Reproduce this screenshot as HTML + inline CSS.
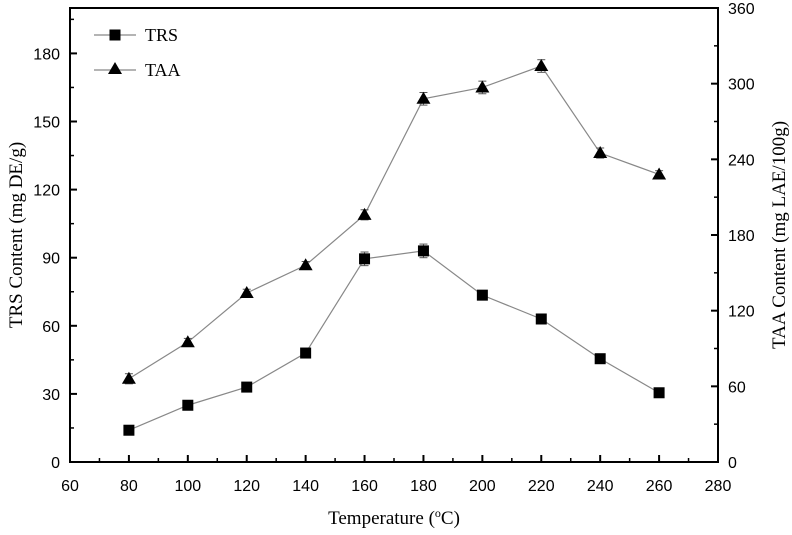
<!DOCTYPE html>
<html><head><meta charset="utf-8"><style>
body{margin:0;background:#fff}
</style></head><body>
<svg id="c" width="792" height="530" xmlns="http://www.w3.org/2000/svg" font-family="Liberation Sans, sans-serif"></svg>
<script>
const temps=[80,100,120,140,160,180,200,220,240,260];
const trs=[14,25,33,48,89.5,93,73.5,63,45.5,30.5];
const taa=[66,95,134,156,196,288,297,314,245,228];
const trsErr=[1,1,1,1,3,3,1.5,1.5,1.5,1.5];
const taaErr=[4,3,3,3,4,5,5,5,4,3];
const xTicks=[60,80,100,120,140,160,180,200,220,240,260,280];
const yLTicks=[0,30,60,90,120,150,180];
const yRTicks=[0,60,120,180,240,300,360];
const L=70,R=718,T=8,B=462;
const SERIF='Liberation Serif, serif';
const x=v=>L+(v-60)/220*(R-L);
const yl=v=>B-v/200*(B-T);
const yr=v=>B-v/360*(B-T);
const s=document.getElementById('c');const NS='http://www.w3.org/2000/svg';
function el(t,a,txt){const e=document.createElementNS(NS,t);for(const k in a)e.setAttribute(k,a[k]);if(txt!=null)e.textContent=txt;s.appendChild(e);return e;}
let e=el('rect',{x:L,y:T,width:R-L,height:B-T,fill:'none',stroke:'#000','stroke-width':2});


xTicks.forEach((v,i)=>{el('line',{x1:x(v),x2:x(v),y1:B,y2:B-7,stroke:'#000','stroke-width':2});
 if(i<xTicks.length-1)el('line',{x1:x(v+10),x2:x(v+10),y1:B,y2:B-4,stroke:'#000','stroke-width':1.5});
 e=el('text',{x:x(v),y:B+29,'text-anchor':'middle','font-size':16},v);
 
 });
yLTicks.forEach(v=>{el('line',{x1:L,x2:L+7,y1:yl(v),y2:yl(v),stroke:'#000','stroke-width':2});
 el('line',{x1:L,x2:L+4,y1:yl(v+15),y2:yl(v+15),stroke:'#000','stroke-width':1.5});
 e=el('text',{x:L-10,y:yl(v)+6,'text-anchor':'end','font-size':16},v);
 
 });
yRTicks.forEach(v=>{el('line',{x1:R,x2:R-7,y1:yr(v),y2:yr(v),stroke:'#000','stroke-width':2});
 if(v<360)el('line',{x1:R,x2:R-4,y1:yr(v+30),y2:yr(v+30),stroke:'#000','stroke-width':1.5});
 e=el('text',{x:R+10,y:yr(v)+6,'text-anchor':'start','font-size':16},v);
 
 });
e=el('text',{x:(L+R)/2,y:524,'text-anchor':'middle','font-size':19,'font-family':SERIF},'');
e.innerHTML='Temperature (<tspan dy="-7" font-size="12">o</tspan><tspan dy="7">C)</tspan>';


e=el('text',{x:0,y:0,transform:'translate(22,235) rotate(-90)','text-anchor':'middle','font-size':19,'font-family':SERIF},'TRS Content (mg DE/g)');


e=el('text',{x:0,y:0,transform:'translate(785,235) rotate(-90)','text-anchor':'middle','font-size':19,'font-family':SERIF},'TAA Content (mg LAE/100g)');


function series(vals,errs,fy,shape,name){
 e=el('polyline',{points:temps.map((t,i)=>x(t)+','+fy(vals[i])).join(' '),fill:'none',stroke:'#888','stroke-width':1.2});
 
 
 temps.forEach((t,i)=>{const cx=x(t),cy=fy(vals[i]),ey=fy(vals[i]+errs[i]),ey2=fy(vals[i]-errs[i]);
  el('line',{x1:cx,x2:cx,y1:ey,y2:ey2,stroke:'#555','stroke-width':1});
  el('line',{x1:cx-4,x2:cx+4,y1:ey,y2:ey,stroke:'#555','stroke-width':1});
  el('line',{x1:cx-4,x2:cx+4,y1:ey2,y2:ey2,stroke:'#555','stroke-width':1});
  if(shape==='sq')e=el('rect',{x:cx-5.5,y:cy-5.5,width:11,height:11,fill:'#000'});
  else e=el('polygon',{points:`${cx},${cy-7} ${cx-7},${cy+5} ${cx+7},${cy+5}`,fill:'#000'});
  
  });
}
series(trs,trsErr,yl,'sq','trs');
series(taa,taaErr,yr,'tri','taa');
el('line',{x1:94,x2:136,y1:35,y2:35,stroke:'#888','stroke-width':1.2});
e=el('rect',{x:109.5,y:29.5,width:11,height:11,fill:'#000'});


e=el('text',{x:145,y:41,'font-size':18,'font-family':SERIF},'TRS');


el('line',{x1:94,x2:136,y1:70,y2:70,stroke:'#888','stroke-width':1.2});
e=el('polygon',{points:'115,62 108,74 122,74',fill:'#000'});


e=el('text',{x:145,y:76,'font-size':18,'font-family':SERIF},'TAA');


</script>
</body></html>
